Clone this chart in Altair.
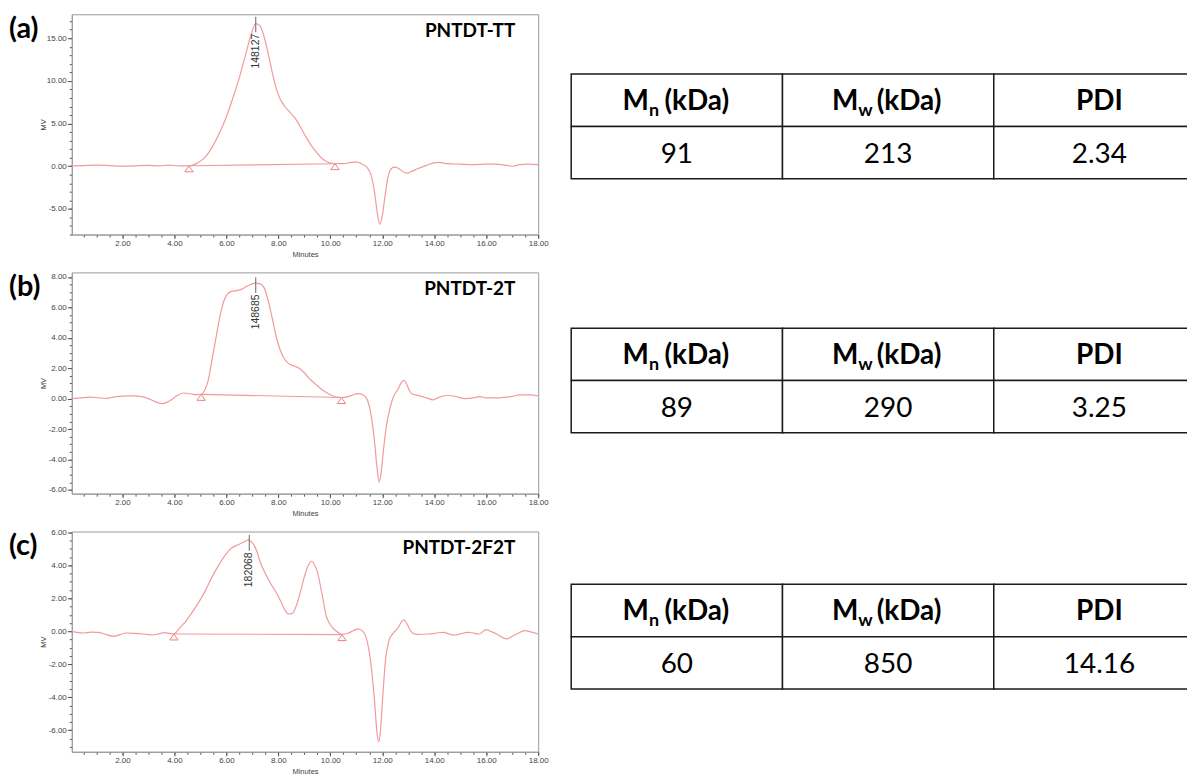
import altair as alt
import pandas as pd

RED = "#f29a9a"
TRI = "#ef7e7e"
AXC = "#444444"
FRAME = "#9a9a9a"
LBLFONT = "Liberation Sans"
TFONT = "Lato"

# ---------------- (a) PNTDT-TT ----------------
a_time = [0.05, 0.5, 1.0, 1.5, 2.0, 2.5, 3.0, 3.4, 3.8, 4.2, 4.56, 4.8, 5.0, 5.25, 5.5,
          5.75, 6.0, 6.25, 6.5, 6.75, 6.95, 7.13, 7.3, 7.45, 7.6, 7.75, 7.9, 8.05, 8.25,
          8.45, 8.65, 8.85, 9.05, 9.25, 9.45, 9.65, 9.85, 10.05, 10.18, 10.5, 10.8, 11.0,
          11.2, 11.4, 11.55, 11.7, 11.8, 11.9, 12.0, 12.1, 12.2, 12.3, 12.45, 12.6, 12.8,
          12.95, 13.1, 13.35, 13.7, 14.0, 14.2, 14.5, 15.0, 15.5, 16.0, 16.3, 16.8, 17.0,
          17.3, 17.6, 18.0]
a_mv = [0.05, 0.08, 0.12, 0.08, 0.02, 0.05, 0.1, 0.05, 0.12, 0.05, 0.05, 0.25, 0.6, 1.3, 2.5,
        4.0, 5.8, 8.0, 10.4, 13.2, 15.4, 16.7, 16.4, 15.2, 13.3, 11.2, 9.3, 8.0, 7.0,
        6.3, 5.6, 4.6, 3.5, 2.5, 1.7, 1.0, 0.55, 0.35, 0.3, 0.3, 0.45, 0.5,
        0.3, -0.1, -0.9, -3.0, -5.3, -6.8, -5.8, -3.6, -1.6, -0.5, -0.1, -0.2, -0.65,
        -0.8, -0.65, -0.3, 0.1, 0.4, 0.45, 0.3, 0.25, 0.2, 0.25, 0.25, 0.1, 0.0,
        0.2, 0.25, 0.2]
a_base_time = [4.56, 10.18]
a_base_mv = [0.05, 0.3]
a_peak = {"t": [7.13], "top": [17.5], "bot": [15.7], "label": ["148127"]}
a_name = "PNTDT-TT"
a_letter = "(a)"
a_ydomain = [-8.0, 17.8]
a_ymajor = [-5, 0, 5, 10, 15]
a_yminor = list(range(-8, 18))
a_table = ["91", "213", "2.34"]

# ---------------- (b) PNTDT-2T ----------------
b_time = [0.05, 0.4, 0.75, 1.1, 1.4, 1.7, 2.0, 2.4, 2.8, 3.0, 3.2, 3.5, 3.7, 3.9, 4.1, 4.35,
          4.6, 4.85, 5.03, 5.15, 5.3, 5.45, 5.6, 5.75, 5.9, 6.05, 6.2, 6.4, 6.6, 6.8, 7.0,
          7.12, 7.3, 7.45, 7.6, 7.75, 7.9, 8.05, 8.2, 8.4, 8.6, 8.8, 9.0, 9.2, 9.4, 9.6,
          9.8, 10.0, 10.2, 10.43, 10.6, 10.8, 11.05, 11.25, 11.4, 11.55, 11.7, 11.8, 11.88,
          11.96, 12.05, 12.15, 12.3, 12.45, 12.6, 12.75, 12.84, 12.95, 13.05, 13.15, 13.4,
          13.7, 13.95, 14.2, 14.5, 14.8, 15.2, 15.5, 15.75, 16.0, 16.5, 17.0, 17.3, 17.7, 18.0]
b_mv = [0.0, 0.05, 0.1, 0.05, 0.02, 0.12, 0.17, 0.18, 0.12, 0.0, -0.15, -0.33, -0.25, -0.05,
        0.2, 0.37, 0.32, 0.26, 0.28, 0.5, 1.2, 2.6, 4.0, 5.4, 6.4, 6.9, 7.05, 7.1, 7.2, 7.4,
        7.55, 7.6, 7.55, 7.3, 6.5, 5.4, 4.2, 3.3, 2.7, 2.3, 2.15, 2.0, 1.7, 1.3, 1.0, 0.7,
        0.45, 0.25, 0.12, 0.07, 0.1, 0.2, 0.33, 0.25, 0.0, -0.9, -2.8, -4.6, -5.5,
        -4.8, -3.3, -1.9, -0.6, 0.2, 0.6, 1.1, 1.2, 0.9, 0.5, 0.3, 0.2,
        0.05, -0.08, 0.1, 0.22, 0.15, 0.0, 0.05, 0.13, 0.05, 0.05, 0.15, 0.24, 0.25, 0.17]
b_base_time = [5.03, 10.43]
b_base_mv = [0.28, 0.07]
b_peak = {"t": [7.13], "top": [7.98], "bot": [6.95], "label": ["148685"]}
b_name = "PNTDT-2T"
b_letter = "(b)"
b_ydomain = [-6.25, 8.3]
b_ymajor = [-6, -4, -2, 0, 2, 4, 6, 8]
b_yminor = [v * 0.5 for v in range(-12, 17)]
b_table = ["89", "290", "3.25"]

# ---------------- (c) PNTDT-2F2T ----------------
c_time = [0.05, 0.5, 0.8, 1.05, 1.35, 1.66, 1.9, 2.14, 2.5, 2.82, 3.16, 3.4, 3.6, 3.8, 3.98,
          4.2, 4.46, 4.7, 4.95, 5.2, 5.45, 5.7, 5.95, 6.2, 6.45, 6.65, 6.84, 6.95, 7.15, 7.3,
          7.5, 7.7, 7.9, 8.1, 8.25, 8.4, 8.55, 8.7, 8.85, 9.0, 9.15, 9.28, 9.4, 9.5, 9.6,
          9.7, 9.85, 10.0, 10.2, 10.45, 10.7, 10.9, 11.06, 11.25, 11.4, 11.55, 11.7, 11.8,
          11.86, 11.93, 12.02, 12.12, 12.25, 12.4, 12.6, 12.75, 12.83, 12.95, 13.1, 13.3,
          13.8, 14.1, 14.35, 14.6, 14.8, 15.0, 15.3, 15.5, 15.72, 16.0, 16.2, 16.4, 16.6,
          16.8, 17.0, 17.17, 17.5, 17.75, 18.0]
c_mv = [0.0, -0.1, -0.05, -0.06, -0.18, -0.3, -0.2, -0.1, -0.12, -0.16, -0.22, -0.15, -0.08,
        -0.12, -0.16, 0.2, 0.65, 1.2, 1.8, 2.5, 3.3, 4.0, 4.6, 5.05, 5.25, 5.4, 5.55, 5.45,
        4.95, 4.2, 3.5, 2.9, 2.4, 1.8, 1.3, 1.05, 1.1, 1.6, 2.4, 3.3, 4.0, 4.25, 4.0, 3.6,
        2.9, 2.1, 0.9, 0.4, 0.05, -0.18, -0.1, 0.05, 0.15, 0.0, -0.5, -1.8, -4.2, -6.2,
        -6.7, -6.0, -3.9, -1.8, -0.6, -0.15, 0.2, 0.6, 0.7, 0.45, 0.0, -0.18,
        -0.16, -0.1, -0.06, -0.18, -0.22, -0.15, -0.06, -0.1, -0.16, 0.1, -0.02, -0.16, -0.35,
        -0.46, -0.3, -0.16, 0.04, -0.05, -0.16]
c_base_time = [3.98, 10.45]
c_base_mv = [-0.16, -0.2]
c_peak = {"t": [6.88], "top": [5.85], "bot": [4.88], "label": ["182068"]}
c_name = "PNTDT-2F2T"
c_letter = "(c)"
c_ydomain = [-7.3, 6.05]
c_ymajor = [-6, -4, -2, 0, 2, 4, 6]
c_yminor = [v * 0.5 for v in range(-14, 13)]
c_table = ["60", "850", "14.16"]

# ---------------- shared axis ticks & table headers ----------------
x_domain = [0.05, 18]
x_major = [2, 4, 6, 8, 10, 12, 14, 16, 18]
x_minor = [v * 0.5 for v in range(1, 37)]
header_main = ["M", "M", "PDI"]
header_sub = ["n", "w", ""]
header_unit = ["(kDa)", "(kDa)", ""]

LABEL_EXPR = "(datum.value < 0 ? '-' : '') + format(abs(datum.value), '.2f')"
TRI_PATH = "M0,0L0.7,1L-0.7,1Z"

PW = 468
TW = 620


def chrom(times, mvs, base_t, base_mv, peak, name, letter, ydom, ymajor, yminor, h):
    df = pd.DataFrame({"t": times, "mv": mvs})
    bdf = pd.DataFrame({"t": base_t, "mv": base_mv})
    pdf = pd.DataFrame(peak)
    xs = alt.Scale(domain=x_domain, nice=False, zero=False)
    ys = alt.Scale(domain=ydom, nice=False, zero=False)

    x_ax = alt.Axis(orient="bottom", values=x_major, labelExpr=LABEL_EXPR, labelFont=LBLFONT,
                    labelFontSize=8, labelColor=AXC, labelPadding=1, tickSize=4, tickColor="#555",
                    domainColor=FRAME, grid=False, title="Minutes", titleFont=LBLFONT,
                    titleFontSize=7.5, titleFontWeight="normal", titleColor=AXC,
                    titleX=PW / 2, titleY=20, titleBaseline="middle", labelFlush=False)
    y_ax = alt.Axis(orient="left", values=ymajor, labelExpr=LABEL_EXPR, labelFont=LBLFONT,
                    labelFontSize=8, labelColor=AXC, labelPadding=1, tickSize=4.5, tickColor="#555",
                    domainColor=FRAME, grid=False, title="MV", titleFont=LBLFONT,
                    titleFontSize=7.5, titleFontWeight="normal", titleColor=AXC,
                    titleX=-28, titleY=h / 2, titleAngle=270, titleBaseline="middle",
                    titleAlign="center", labelFlush=False)
    x_min = alt.Axis(orient="bottom", values=x_minor, labels=False, tickSize=2.5, tickColor="#555",
                     domain=False, grid=False, title="")
    y_min = alt.Axis(orient="left", values=yminor, labels=False, tickSize=2.5, tickColor="#555",
                     domain=False, grid=False, title="")

    main = alt.Chart(df).mark_line(color=RED, strokeWidth=1.2, interpolate="monotone").encode(
        x=alt.X("t:Q", scale=xs, axis=x_ax),
        y=alt.Y("mv:Q", scale=ys, axis=y_ax),
    )
    minor = alt.Chart(bdf).mark_point(opacity=0).encode(
        x=alt.X("t:Q", scale=xs, axis=x_min),
        y=alt.Y("mv:Q", scale=ys, axis=y_min),
    )
    base = alt.Chart(bdf).mark_line(color=RED, strokeWidth=1.1).encode(
        x=alt.X("t:Q", scale=xs, axis=None),
        y=alt.Y("mv:Q", scale=ys, axis=None),
    )
    tri = alt.Chart(bdf).mark_point(shape=TRI_PATH, size=144, filled=False, color=TRI,
                                     strokeWidth=1, opacity=1).encode(
        x=alt.X("t:Q", scale=xs, axis=None),
        y=alt.Y("mv:Q", scale=ys, axis=None),
    )
    tick = alt.Chart(pdf).mark_rule(color="#666", strokeWidth=1).encode(
        x=alt.X("t:Q", scale=xs, axis=None),
        y=alt.Y("top:Q", scale=ys, axis=None),
        y2="bot:Q",
    )
    plabel = alt.Chart(pdf).mark_text(angle=270, align="right", baseline="middle", dx=-1.5,
                                      font=LBLFONT, fontSize=10.5, color="#333").encode(
        x=alt.X("t:Q", scale=xs, axis=None),
        y=alt.Y("bot:Q", scale=ys, axis=None),
        text="label:N",
    )
    ndf = pd.DataFrame({"name": [name], "letter": [letter]})
    nm = alt.Chart(ndf).mark_text(align="right", baseline="middle", font=TFONT, fontWeight="bold",
                                  fontSize=19, color="#000").encode(
        x=alt.value(PW - 23), y=alt.value(17), text="name:N")
    lt = alt.Chart(ndf).mark_text(align="left", baseline="middle", font=TFONT, fontWeight="bold",
                                  fontSize=29, color="#000").encode(
        x=alt.value(-63), y=alt.value(15), text="letter:N")

    return alt.layer(minor, base, tri, main, tick, plabel, nm, lt).resolve_axis(
        x="independent", y="independent"
    ).properties(width=PW, height=h, view=alt.ViewBackground(stroke=FRAME, strokeWidth=1))


def table(vals, h, top):
    colw = 212.0
    rowh = 52.5
    cells = pd.DataFrame({"c": [0, 1, 2, 0, 1, 2], "r": [0, 0, 0, 1, 1, 1]})
    xs = alt.Scale(domain=[-0.01, TW / colw - 0.01], nice=False, zero=False)
    ys = alt.Scale(domain=[-top / rowh, (h - top) / rowh], reverse=True, nice=False, zero=False)

    rect = alt.Chart(cells).transform_calculate(c2="datum.c + 1", r2="datum.r + 1").mark_rect(
        fill="white", stroke="#1a1a1a", strokeWidth=1.5, clip=True).encode(
        x=alt.X("c:Q", scale=xs, axis=None), x2="c2:Q",
        y=alt.Y("r:Q", scale=ys, axis=None), y2="r2:Q",
    )
    hdf = pd.DataFrame({"col": [0, 1, 2], "main": header_main, "sub": header_sub,
                        "unit": header_unit})
    hb = alt.Chart(hdf).transform_calculate(cx="datum.col + 0.5", ry="0.5")
    enc = dict(x=alt.X("cx:Q", scale=xs, axis=None), y=alt.Y("ry:Q", scale=ys, axis=None))
    big = dict(font=TFONT, fontWeight="bold", fontSize=28, color="#000", baseline="alphabetic")
    small = dict(font=TFONT, fontWeight="bold", fontSize=18, color="#000", baseline="alphabetic")
    layers = [rect]
    for col, d_m, d_u in [(0, -28, -12.5), (1, -30, -11.5)]:
        f = hb.transform_filter(f"datum.col == {col}")
        layers.append(f.mark_text(align="right", dx=d_m, dy=10, **big).encode(text="main:N", **enc))
        layers.append(f.mark_text(align="left", dx=d_m, dy=16, **small).encode(text="sub:N", **enc))
        layers.append(f.mark_text(align="left", dx=d_u, dy=10, **big).encode(text="unit:N", **enc))
    layers.append(hb.transform_filter("datum.col == 2").mark_text(align="center", dy=10, **big)
                  .encode(text="main:N", **enc))
    ddf = pd.DataFrame({"col": [0, 1, 2], "val": vals})
    layers.append(alt.Chart(ddf).transform_calculate(cx="datum.col + 0.5", ry="1.5").mark_text(
        align="center", baseline="alphabetic", dy=10, font=TFONT, fontSize=28, color="#000").encode(
        text="val:N", x=alt.X("cx:Q", scale=xs, axis=None), y=alt.Y("ry:Q", scale=ys, axis=None)))
    return alt.layer(*layers).properties(
        width=TW, height=h, view=alt.ViewBackground(stroke="transparent"))


H_A, H_B, H_C = 221, 222, 221

chart = alt.concat(
    chrom(a_time, a_mv, a_base_time, a_base_mv, a_peak, a_name, a_letter, a_ydomain, a_ymajor, a_yminor, H_A),
    table(a_table, H_A, 60),
    chrom(b_time, b_mv, b_base_time, b_base_mv, b_peak, b_name, b_letter, b_ydomain, b_ymajor, b_yminor, H_B),
    table(b_table, H_B, 56),
    chrom(c_time, c_mv, c_base_time, c_base_mv, c_peak, c_name, c_letter, c_ydomain, c_ymajor, c_yminor, H_C),
    table(c_table, H_C, 53),
    columns=2, spacing={"row": 38, "column": 31}, bounds="flush",
).properties(padding={"left": 0, "top": 4, "right": 0, "bottom": 0}).configure(background="white")

chart.save("out.html", embed_options={"renderer": "svg", "actions": False})
